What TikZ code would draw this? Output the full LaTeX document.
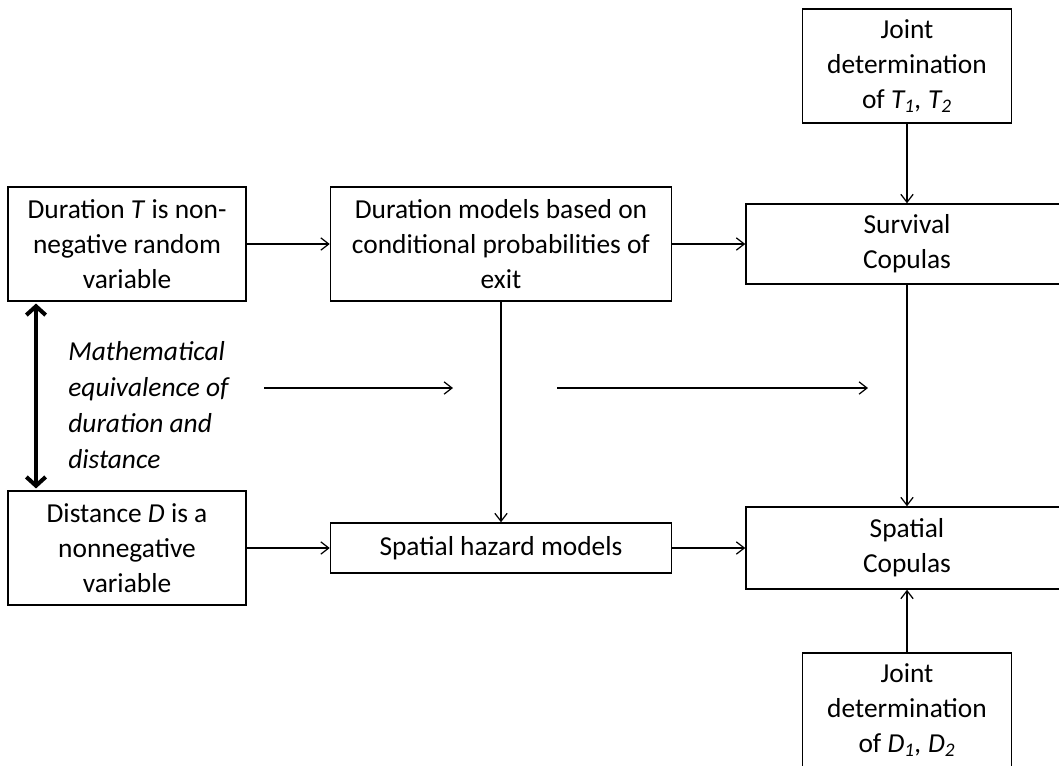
\documentclass[tikz,border=0pt]{standalone}
\usepackage{fontspec}
\setmainfont{Carlito}
\usetikzlibrary{arrows.meta}

\begin{document}
\begin{tikzpicture}[x=0.02cm, y=-0.02cm,
        box/.style={draw=black, line width=0.9pt, align=center, inner sep=0pt,
            font=\fontsize{15.6}{19.9}\selectfont},
        conn/.style={draw=black, line width=0.7pt, -{Straight Barb[length=4.5pt,width=7pt]}},
        twoway/.style={draw=black, line width=2.3pt,
            {Straight Barb[length=5pt,width=11pt]}-{Straight Barb[length=5pt,width=11pt]}}]
            \clip (0,0) rectangle (1059,765);
            % left column
            \node[box, minimum width=4.76cm, minimum height=2.28cm] (durT) at (127,244) {Duration \textit{T} is non-\\negative random\\variable};
            \node[box, minimum width=4.76cm, minimum height=2.28cm] (dist) at (127,548) {Distance \textit{D} is a\\nonnegative\\variable};
            \node[align=left, anchor=west, inner sep=0pt, font=\fontsize{15.6}{20.4}\selectfont\itshape] (equiv) at (68,405) {Mathematical\\equivalence of\\duration and\\distance};
            % middle column
            \node[box, minimum width=6.82cm, minimum height=2.28cm] (durmod) at (501,244) {Duration models based on\\conditional probabilities of\\exit};
            \node[box, minimum width=6.82cm, minimum height=1.0cm] (hazard) at (501,548) {Spatial hazard models};
            % right column
            \node[box, minimum width=4.18cm, minimum height=2.28cm] (jointT) at (907,66) {Joint\\determination\\of \textit{T\textsubscript{1}, T\textsubscript{2}}};
            \node[box, minimum width=6.44cm, minimum height=1.6cm] (survcop) at (907,244) {Survival\\Copulas};
            \node[box, minimum width=6.44cm, minimum height=1.64cm] (spatcop) at (907,548) {Spatial\\Copulas};
            \node[box, minimum width=4.18cm, minimum height=2.28cm] (jointD) at (907,710) {Joint\\determination\\of \textit{D\textsubscript{1}, D\textsubscript{2}}};
            \coordinate (dblx) at (36,0);
            \coordinate (eqa) at (264,388);
            \coordinate (eqb) at (453,388);
            \coordinate (eqc) at (557,388);
            \coordinate (eqd) at (868,388);
            \draw[conn] (durT) -- (durmod);
            \draw[conn] (durmod) -- (survcop);
            \draw[conn] (dist) -- (hazard);
            \draw[conn] (hazard) -- (spatcop);
            \draw[conn] (durmod) -- (hazard);
            \draw[conn] (jointT) -- (survcop);
            \draw[conn] (survcop) -- (spatcop);
            \draw[conn] (jointD) -- (spatcop);
            \draw[conn] (eqa) -- (eqb);
            \draw[conn] (eqc) -- (eqd);
            \draw[twoway, shorten <=1pt, shorten >=1pt] (dblx |- durT.south) -- (dblx |- dist.north);
\end{tikzpicture}
\end{document}
